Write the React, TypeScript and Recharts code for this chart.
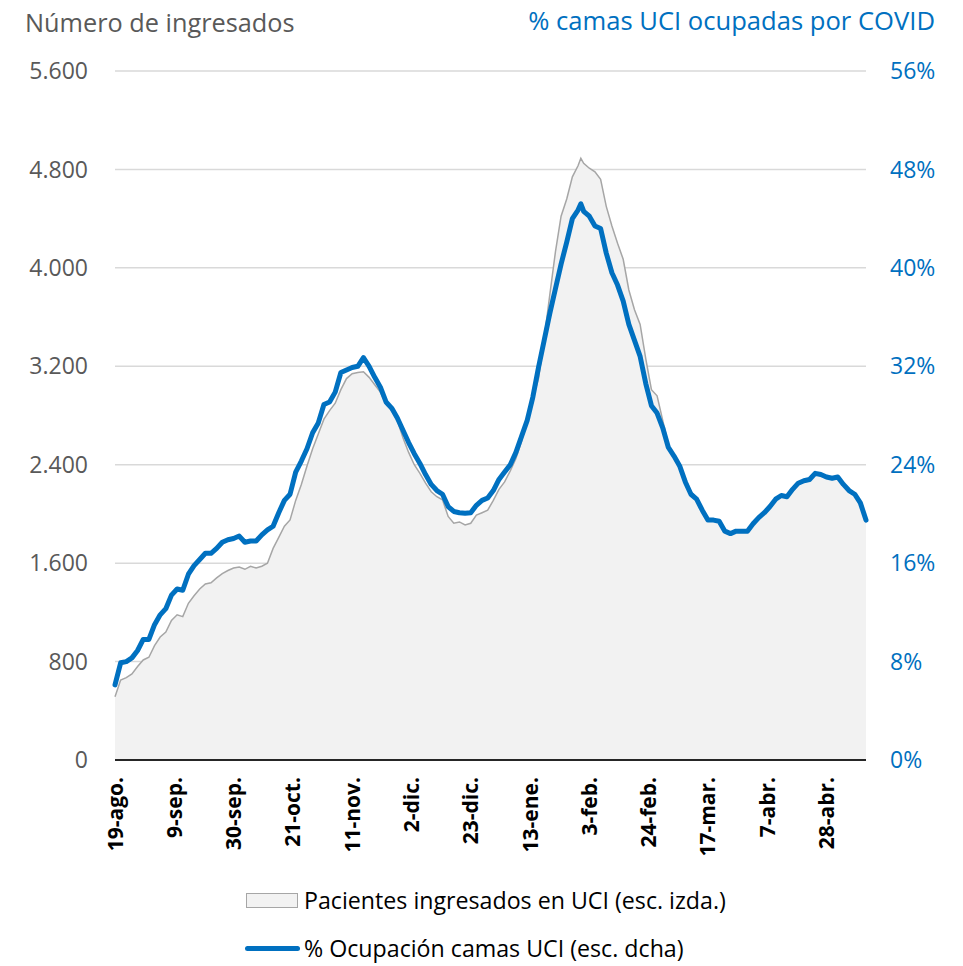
import React from 'react';
import { ComposedChart, Area, Line, XAxis, YAxis, CartesianGrid } from 'recharts';

// días transcurridos desde el 19-ago
const days = [
  0, 2, 4, 6, 8, 10, 12, 14, 16, 18,
  20, 22, 24, 26, 28, 30, 32, 34, 36, 38,
  40, 42, 44, 46, 48, 50, 52, 54, 56, 58,
  60, 62, 64, 66, 68, 70, 72, 74, 76, 78,
  80, 82, 84, 86, 88, 90, 92, 94, 96, 98,
  100, 102, 104, 106, 108, 110, 112, 114, 116, 118,
  120, 122, 124, 126, 128, 130, 132, 134, 136, 138,
  140, 142, 144, 146, 148, 150, 152, 154, 156, 158,
  160, 162, 164, 165, 166, 168, 170, 172, 174, 176, 178,
  180, 182, 184, 186, 188, 190, 192, 194, 196, 198,
  200, 202, 204, 206, 208, 210, 212, 214, 216, 218,
  220, 222, 224, 226, 228, 230, 232, 234, 236, 238,
  240, 242, 244, 246, 248, 250, 252, 254, 256, 258,
  260, 262, 264, 266,
];

// Pacientes ingresados en UCI (esc. izda.)
const pacientes = [
  514, 650, 670, 700, 760, 813, 835, 930, 1000, 1040,
  1135, 1180, 1165, 1274, 1335, 1390, 1430, 1440, 1480, 1515,
  1540, 1560, 1568, 1550, 1575, 1560, 1575, 1600, 1720, 1810,
  1900, 1951, 2110, 2240, 2390, 2530, 2650, 2770, 2840, 2900,
  3010, 3100, 3140, 3150, 3155, 3110, 3050, 2990, 2890, 2840,
  2760, 2620, 2500, 2400, 2330, 2250, 2180, 2140, 2115, 1980,
  1924, 1935, 1910, 1924, 1990, 2010, 2030, 2110, 2200, 2260,
  2350, 2450, 2590, 2770, 2940, 3100, 3420, 3780, 4130, 4420,
  4560, 4740, 4830, 4890, 4850, 4810, 4780, 4720, 4500, 4340, 4200,
  4070, 3820, 3660, 3540, 3260, 3010, 2960, 2760, 2560, 2470,
  2400, 2290, 2180, 2130, 2040, 1950, 1950, 1940, 1860, 1840,
  1860, 1860, 1850, 1910, 1960, 2000, 2050, 2110, 2140, 2130,
  2190, 2240, 2260, 2270, 2320, 2310, 2290, 2280, 2290, 2230,
  2180, 2150, 2080, 1940,
];

// % Ocupación camas UCI (esc. dcha)
const ocupacion = [
  6.1, 7.9, 8.0, 8.3, 8.9, 9.8, 9.8, 11.0, 11.8, 12.3,
  13.4, 13.9, 13.8, 15.1, 15.8, 16.3, 16.8, 16.8, 17.2, 17.7,
  17.9, 18.0, 18.2, 17.7, 17.8, 17.8, 18.3, 18.7, 19.0, 20.1,
  21.1, 21.6, 23.4, 24.3, 25.3, 26.6, 27.4, 28.9, 29.1, 29.9,
  31.5, 31.7, 31.9, 32.0, 32.7, 32.0, 31.1, 30.3, 29.1, 28.6,
  27.8, 26.8, 25.8, 24.9, 24.1, 23.2, 22.4, 21.9, 21.6, 20.6,
  20.2, 20.1, 20.05, 20.1, 20.7, 21.1, 21.3, 21.9, 22.8, 23.4,
  24.0, 25.0, 26.3, 27.6, 29.5, 31.9, 34.1, 36.3, 38.3, 40.3,
  42.1, 44.0, 44.7, 45.2, 44.6, 44.2, 43.4, 43.2, 41.2, 39.6, 38.6,
  37.3, 35.4, 34.1, 32.8, 30.6, 28.8, 28.2, 27.0, 25.4, 24.7,
  23.9, 22.6, 21.6, 21.2, 20.3, 19.5, 19.5, 19.4, 18.6, 18.4,
  18.6, 18.6, 18.6, 19.2, 19.7, 20.1, 20.6, 21.2, 21.5, 21.4,
  22.0, 22.5, 22.7, 22.8, 23.3, 23.2, 23.0, 22.9, 23.0, 22.4,
  21.9, 21.6, 20.9, 19.5,
];

const tickDays = [0, 21, 42, 63, 84, 105, 126, 147, 168, 189, 210, 231, 252];
const tickLabels = ['19-ago.', '9-sep.', '30-sep.', '21-oct.', '11-nov.', '2-dic.', '23-dic.', '13-ene.', '3-feb.', '24-feb.', '17-mar.', '7-abr.', '28-abr.'];
const leftTicks = [0, 800, 1600, 2400, 3200, 4000, 4800, 5600];
const rightTicks = [0, 8, 16, 24, 32, 40, 48, 56];

const data = days.map((d, i) => ({ day: d, pacientes: pacientes[i], ocupacion: ocupacion[i] }));

const FONT = '"Open Sans", sans-serif';
const GRAY_TEXT = '#595959';
const BLUE = '#0070C0';

const fmtThousands = (v: number) => String(v).replace(/\B(?=(\d{3})+(?!\d))/g, '.');

const DateTick = (props: any) => {
  const { x, y, payload } = props;
  const label = tickLabels[tickDays.indexOf(payload.value)];
  return (
    <text
      x={x}
      y={y}
      dy="0.36em"
      transform={`rotate(-90, ${x}, ${y})`}
      textAnchor="end"
      fill="#000"
      fontFamily={FONT}
      fontWeight={700}
      fontSize={21}
    >
      {label}
    </text>
  );
};

export default function App() {
  return (
    <div style={{ position: 'absolute', left: 0, top: 0, width: 963, height: 966, background: '#fff', fontFamily: FONT }}>
      <div style={{ position: 'absolute', left: 25, top: 5, fontSize: 25.3, color: GRAY_TEXT, whiteSpace: 'nowrap' }}>
        Número de ingresados
      </div>
      <div style={{ position: 'absolute', right: 28, top: 3, fontSize: 25.6, color: BLUE, whiteSpace: 'nowrap' }}>
        % camas UCI ocupadas por COVID
      </div>

      <ComposedChart width={963} height={860} data={data} margin={{ top: 71, right: 0, bottom: 0, left: 0 }}>
        <CartesianGrid yAxisId="left" vertical={false} stroke="#d9d9d9" strokeWidth={1.5} />
        <XAxis
          dataKey="day"
          type="number"
          domain={[0, 266]}
          ticks={tickDays}
          interval={0}
          height={100}
          tickLine={false}
          tickSize={0}
          tickMargin={17}
          axisLine={{ stroke: '#262626', strokeWidth: 2 }}
          tick={<DateTick />}
        />
        <YAxis
          yAxisId="left"
          domain={[0, 5600]}
          ticks={leftTicks}
          width={115}
          axisLine={false}
          tickLine={false}
          tickSize={0}
          tickMargin={27}
          tickFormatter={fmtThousands}
          tick={{ fill: GRAY_TEXT, fontSize: 23, fontFamily: FONT }}
        />
        <YAxis
          yAxisId="right"
          orientation="right"
          domain={[0, 56]}
          ticks={rightTicks}
          width={97}
          axisLine={false}
          tickLine={false}
          tickSize={0}
          tickMargin={24}
          tickFormatter={(v: number) => `${v}%`}
          tick={{ fill: BLUE, fontSize: 23, fontFamily: FONT }}
        />
        <Area
          yAxisId="left"
          type="linear"
          dataKey="pacientes"
          fill="#f2f2f2"
          fillOpacity={1}
          stroke="#a6a6a6"
          strokeWidth={1.5}
          isAnimationActive={false}
        />
        <Line
          yAxisId="right"
          type="linear"
          dataKey="ocupacion"
          stroke={BLUE}
          strokeWidth={5}
          strokeLinejoin="round"
          strokeLinecap="round"
          dot={false}
          activeDot={false}
          isAnimationActive={false}
        />
      </ComposedChart>

      <div style={{ position: 'absolute', left: 246, top: 884, display: 'flex', alignItems: 'center', fontSize: 23.2, color: '#000', whiteSpace: 'nowrap' }}>
        <span style={{ display: 'inline-block', width: 50, height: 13, background: '#f2f2f2', border: '1.5px solid #a6a6a6', marginRight: 6 }} />
        Pacientes ingresados en UCI (esc. izda.)
      </div>
      <div style={{ position: 'absolute', left: 245, top: 932, display: 'flex', alignItems: 'center', fontSize: 23.2, color: '#000', whiteSpace: 'nowrap' }}>
        <span style={{ display: 'inline-block', width: 55, height: 5, borderRadius: 3, background: BLUE, marginRight: 4 }} />
        % Ocupación camas UCI (esc. dcha)
      </div>
    </div>
  );
}
